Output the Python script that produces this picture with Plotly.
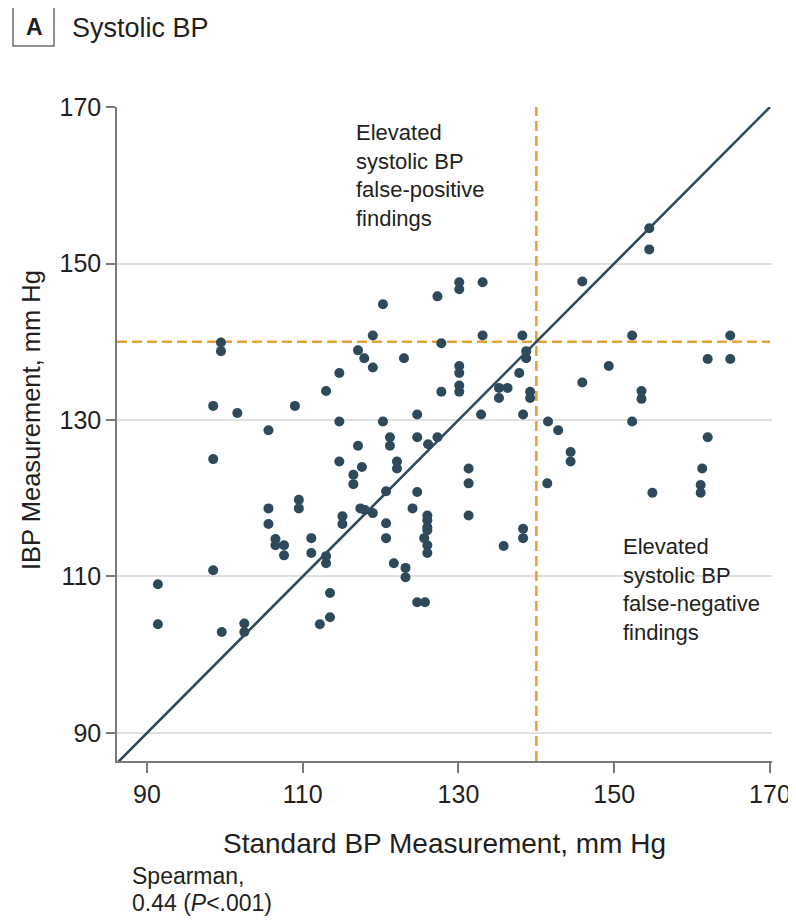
import plotly.graph_objects as go

# ---- data ----
standard_bp = [91.4, 91.4, 98.5, 98.5, 98.5, 99.5, 99.5, 99.6, 101.6, 102.5, 102.5,
               105.6, 105.6, 105.6, 106.5, 106.5, 107.6, 107.6, 109.0, 109.5, 109.5,
               111.1, 111.1, 112.2, 113.0, 113.0, 113.0, 113.5, 113.5, 114.7, 114.7,
               114.7, 115.1, 115.1, 116.5, 116.5, 117.1, 117.1, 117.4, 117.6, 117.9,
               118.0, 119.0, 119.0, 119.0, 120.3, 120.3, 120.7, 120.7, 120.7, 121.2,
               121.2, 121.7, 122.1, 122.1, 123.0, 123.2, 123.2, 124.1, 124.7, 124.7,
               124.7, 124.7, 125.7, 125.6, 126.0, 126.0, 126.0, 126.0, 126.0, 126.0,
               126.1, 127.3, 127.3, 127.8, 127.8, 130.1, 130.1, 130.1, 130.1, 130.1,
               130.1, 131.3, 131.3, 131.3, 132.9, 133.1, 133.1, 135.2, 136.3, 135.2,
               135.8, 137.8, 138.2, 138.7, 138.7, 139.2, 139.2, 138.3, 138.3, 138.3,
               141.5, 141.4, 142.8, 144.4, 144.4, 145.9, 145.9, 149.3, 152.3, 152.3,
               153.5, 153.5, 154.5, 154.5, 154.9, 161.1, 161.1, 161.3, 162.0, 162.0,
               164.9, 164.9, 171.0]
ibp = [109.0, 103.9, 131.8, 125.0, 110.8, 139.9, 138.8, 102.9, 130.9, 104.0, 102.9,
       128.7, 118.7, 116.7, 114.8, 114.0, 114.0, 112.7, 131.8, 119.8, 118.7,
       114.9, 113.0, 103.9, 133.7, 112.6, 111.7, 107.9, 104.8, 136.0, 129.8,
       124.7, 117.7, 116.7, 123.0, 121.8, 138.9, 126.7, 118.7, 124.0, 137.9,
       118.5, 136.7, 140.8, 118.1, 144.8, 129.8, 120.9, 116.8, 114.9, 127.8,
       126.7, 111.7, 124.7, 123.8, 137.9, 111.1, 109.9, 118.7, 130.7, 127.8,
       120.8, 106.7, 106.7, 114.9, 117.8, 117.2, 116.3, 115.9, 114.0, 113.0,
       126.9, 127.8, 145.8, 139.8, 133.6, 147.6, 146.7, 136.9, 136.0, 134.4,
       133.6, 123.8, 121.9, 117.8, 130.7, 147.6, 140.8, 134.1, 134.1, 132.8,
       113.9, 136.0, 140.8, 138.8, 137.9, 133.6, 132.8, 130.7, 116.1, 114.9,
       129.8, 121.9, 128.7, 125.9, 124.7, 147.7, 134.8, 136.9, 140.8, 129.8,
       133.7, 132.7, 154.5, 151.8, 120.7, 121.7, 120.7, 123.8, 137.8, 127.8,
       140.8, 137.8, 128.7]
tick_values = [90, 110, 130, 150, 170]
threshold = 140
axis_min_x, axis_max_x = 86.15, 170.26
axis_min_y, axis_max_y = 86.42, 170.0

# ---- styling ----
FONT = "Liberation Sans, Arial, sans-serif"
TEXT = "#231f20"
DOT = "#2e4a5a"
ORANGE = "#e8a139"
AXIS = "#7a7a7a"
GRID = "#e0e0e0"

OFF = 8  # page body margin
W, H = 796 - OFF, 921 - OFF
ML, MR, MT, MB = 117 - OFF, 24, 107 - OFF, 160
PW, PH = W - ML - MR, H - MT - MB


def px(xp):
    # page pixel -> paper
    return (xp - OFF - ML) / PW


def py(yp):
    return (H - MB - (yp - OFF)) / PH


fig = go.Figure()

# identity line
fig.add_trace(go.Scatter(
    x=[axis_min_x, axis_max_y], y=[axis_min_x, axis_max_y], mode="lines",
    line=dict(color=DOT, width=2.6), hoverinfo="skip", showlegend=False))

# points
fig.add_trace(go.Scatter(
    x=standard_bp, y=ibp, mode="markers",
    marker=dict(color=DOT, size=10, line=dict(width=0)),
    cliponaxis=False, showlegend=False))

shapes = [
    dict(type="line", xref="x", yref="y", x0=threshold, x1=threshold,
         y0=axis_min_y, y1=axis_max_y, layer="between",
         line=dict(color=ORANGE, width=2.6, dash="10px,5px")),
    dict(type="line", xref="x", yref="y", x0=axis_min_x, x1=170,
         y0=threshold, y1=threshold, layer="between",
         line=dict(color=ORANGE, width=2.6, dash="10px,5px")),
    dict(type="rect", xref="paper", yref="paper", x0=px(13), x1=px(54),
         y0=py(46), y1=py(6), line=dict(color="#6d6d6d", width=1.5)),
]

annotations = [
    dict(xref="paper", yref="paper", x=px(34), y=py(27), text="<b>A</b>",
         showarrow=False, xanchor="center", yanchor="middle",
         font=dict(family=FONT, size=23, color=TEXT)),
    dict(xref="paper", yref="paper", x=px(70), y=py(28), text="Systolic BP",
         showarrow=False, xanchor="left", yanchor="middle",
         font=dict(family=FONT, size=27, color=TEXT)),
    dict(xref="paper", yref="paper", x=px(31), y=py(420),
         text="IBP Measurement, mm Hg", textangle=-90,
         showarrow=False, xanchor="center", yanchor="middle",
         font=dict(family=FONT, size=25.5, color=TEXT)),
    dict(xref="paper", yref="paper", x=px(354), y=py(118),
         text="Elevated<br>systolic BP<br>false-positive<br>findings",
         showarrow=False, xanchor="left", yanchor="top", align="left",
         font=dict(family=FONT, size=22, color=TEXT)),
    dict(xref="paper", yref="paper", x=px(621), y=py(532),
         text="Elevated<br>systolic BP<br>false-negative<br>findings",
         showarrow=False, xanchor="left", yanchor="top", align="left",
         font=dict(family=FONT, size=22, color=TEXT)),
    dict(xref="paper", yref="paper", x=px(130), y=py(876),
         text="Spearman,",
         showarrow=False, xanchor="left", yanchor="middle", align="left",
         font=dict(family=FONT, size=23, color=TEXT)),
    dict(xref="paper", yref="paper", x=px(130), y=py(903),
         text="0.44 (<i>P</i>&lt;.001)",
         showarrow=False, xanchor="left", yanchor="middle", align="left",
         font=dict(family=FONT, size=23, color=TEXT)),
]

fig.update_layout(
    width=W, height=H,
    margin=dict(l=ML, r=MR, t=MT, b=MB, pad=0, autoexpand=False),
    paper_bgcolor="white", plot_bgcolor="white",
    font=dict(family=FONT, color=TEXT),
    shapes=shapes, annotations=annotations, showlegend=False,
    xaxis=dict(
        range=[axis_min_x, axis_max_x], tickvals=tick_values,
        ticks="outside", ticklen=10, tickwidth=1.5, tickcolor=AXIS,
        showline=True, linecolor=AXIS, linewidth=1.5,
        showgrid=False, zeroline=False, automargin=False,
        tickfont=dict(family=FONT, size=25, color=TEXT),
        title=dict(text="Standard BP Measurement, mm Hg",
                   font=dict(family=FONT, size=28, color=TEXT), standoff=27),
    ),
    yaxis=dict(
        range=[axis_min_y, axis_max_y], tickvals=tick_values,
        ticks="outside", ticklen=9, tickwidth=1.5, tickcolor=AXIS,
        showline=True, linecolor=AXIS, linewidth=1.5,
        showgrid=True, gridcolor=GRID, gridwidth=1.5, zeroline=False,
        automargin=False,
        tickfont=dict(family=FONT, size=25, color=TEXT),
    ),
)

fig.write_html("out.html")
